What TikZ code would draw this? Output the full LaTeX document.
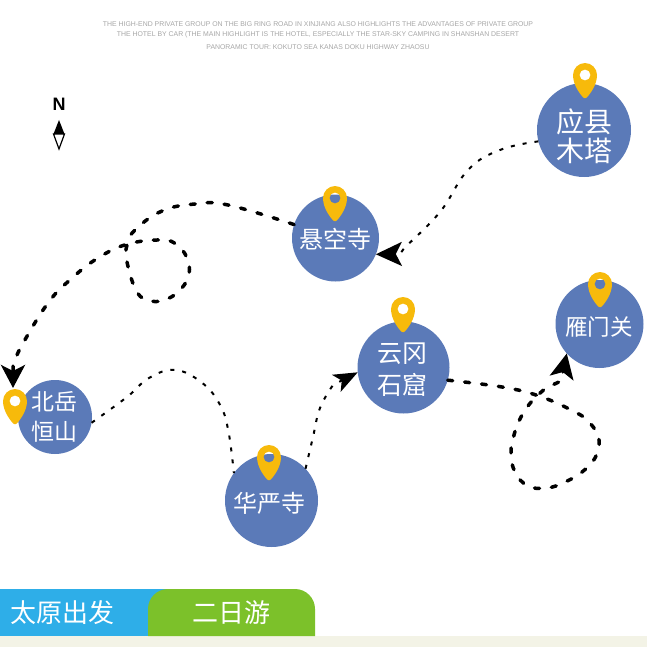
\documentclass[tikz,border=0pt]{standalone}
\usepackage{fontspec}
\setsansfont{Liberation Sans}
\newfontfamily\cjk{Noto Sans CJK SC}
\usetikzlibrary{arrows.meta,calc}
\definecolor{spotblue}{RGB}{91,122,184}
\definecolor{pinyel}{RGB}{247,186,11}
\definecolor{barblue}{RGB}{46,174,232}
\definecolor{bargreen}{RGB}{124,193,42}
\definecolor{barcream}{RGB}{243,243,230}

\begin{document}
\begin{tikzpicture}[
    x=1pt,y=-1pt,
    spot/.style={circle,fill=spotblue,inner sep=0pt,outer sep=0pt,minimum size=#1},
    spottxt/.style={text=white,align=center,inner sep=0pt},
    thinrt/.style={line width=2pt,dash pattern=on 4pt off 8pt},
    fatrt/.style={line width=3.5pt,line cap=round,dash pattern=on 5pt off 12pt},
    bartxt/.style={text=white,inner sep=0pt,font=\fontsize{26}{26}\cjk},
    captxt/.style={text=black!35,inner sep=0pt,font=\fontsize{6.9}{7}\sffamily},
    tipbig/.style={-{Stealth[length=#1,width=24pt,inset=6pt]}},
    locpin/.pic={
        \fill[pinyel,even odd rule] (0,-12) .. controls (6.6,-12) and (12,-6.6) .. (12,0)
            .. controls (12,10) and (5,19) .. (1.8,22.5) .. controls (0.8,23.5) and (-0.8,23.5) .. (-1.8,22.5)
            .. controls (-5,19) and (-12,10) .. (-12,0) .. controls (-12,-6.6) and (-6.6,-12) .. (0,-12) -- cycle
            (0,0) circle (5.5);
    },
]
\useasboundingbox (0,0) rectangle (647,647);

% Caption
\node[captxt] (cap1) at (318,24) {THE HIGH-END PRIVATE GROUP ON THE BIG RING ROAD IN XINJIANG ALSO HIGHLIGHTS THE ADVANTAGES OF PRIVATE GROUP};
\node[captxt] (cap2) at (318,35) {THE HOTEL BY CAR (THE MAIN HIGHLIGHT IS THE HOTEL, ESPECIALLY THE STAR-SKY CAMPING IN SHANSHAN DESERT};
\node[captxt] (cap3) at (318,47) {PANORAMIC TOUR: KOKUTO SEA KANAS DOKU HIGHWAY ZHAOSU};

% Compass
\node[font=\fontsize{18}{18}\sffamily\bfseries,inner sep=0pt] (north) at (59,104) {N};
\draw[line width=1.2pt,fill=white] (53.5,134) -- (64.5,134) -- (59,149) -- cycle;
\fill (59,120) -- (64.5,134) -- (53.5,134) -- cycle;

% Spots
\node[spot=94pt] (yingxian) at (584,130) {};
\node[spot=87pt] (xuankong) at (335.5,238) {};
\node[spot=88pt] (yanmen) at (599.5,324) {};
\node[spot=92pt] (yungang) at (403.5,367.5) {};
\node[spot=93pt] (huayan) at (271.5,500.5) {};
\node[spot=74pt] (hengshan) at (55,417) {};

% Spot labels
\node[spottxt,font=\fontsize{28}{29}\cjk] (yingxiantxt) at (584,136) {应县\\木塔};
\node[spottxt,font=\fontsize{24}{24}\cjk] (xuankongtxt) at (335,239) {悬空寺};
\node[spottxt,font=\fontsize{22.5}{23}\cjk] (yanmentxt) at (599,327) {雁门关};
\node[spottxt,font=\fontsize{25}{32}\cjk] (yungangtxt) at (402,370) {云冈\\石窟};
\node[spottxt,font=\fontsize{24}{24}\cjk] (huayantxt) at (269,503) {华严寺};
\node[spottxt,font=\fontsize{23}{30}\cjk] (hengshantxt) at (54,417) {北岳\\恒山};

% Routes
\coordinate (hengtip) at (13,388);
\draw[thinrt,tipbig=26pt] plot[smooth,tension=.7] coordinates {(yingxian.194) (500,150) (468,170) (440,212) (405,247)} -- (400,254) -- (xuankong.-22);
\draw[fatrt,tipbig=23pt] plot[smooth,tension=.7] coordinates {(xuankong.162) (228,205) (195,204) (162,211) (135,230) (127,245) (127,262) (137,292) (151,301) (167,299) (181,289) (189,274) (187,258) (177,245) (162,240) (128,244) (98,258) (71,279) (48,303) (22,345) (15,361)} -- (13,366) -- (hengtip);
\draw[thinrt] plot[smooth,tension=.7] coordinates {(hengshan.-9) (127,397) (149,378) (175,370) (201,382) (219,403) (228,429) (huayan.144)};
\draw[thinrt,-{Stealth[length=24pt,width=19pt,inset=6pt]}] plot[smooth,tension=.7] coordinates {(huayan.43) (313,437) (320,408) (333,385)} -- (yungang.186);
\draw[fatrt,tipbig=25pt] plot[smooth,tension=.7] coordinates {(yungang.-16) (502,387) (539,396) (575,412) (590,423) (599,440) (595,458) (582,472) (565,482) (547,488) (528,486) (515,472) (511,453) (514,435) (521,417) (532,401) (546,388)} -- (561,381) -- (yanmen.222);

% Pins
\pic at (585,75) {locpin};
\pic at (335,198) {locpin};
\pic at (403,309) {locpin};
\pic at (600,284) {locpin};
\pic at (269,457) {locpin};
\pic at (15,401) {locpin};

% Bottom bar
\fill[barcream] (0,636) rectangle (647,647);
\fill[barblue] (0,589) rectangle (170,636);
\fill[bargreen] (148,636) {[rounded corners=20pt] -- (148,589) -- (315,589)} -- (315,636) -- cycle;
\node[bartxt,anchor=west] (city) at (10,613) {太原出发};
\node[bartxt] (days) at (231,613) {二日游};
\end{tikzpicture}
\end{document}
